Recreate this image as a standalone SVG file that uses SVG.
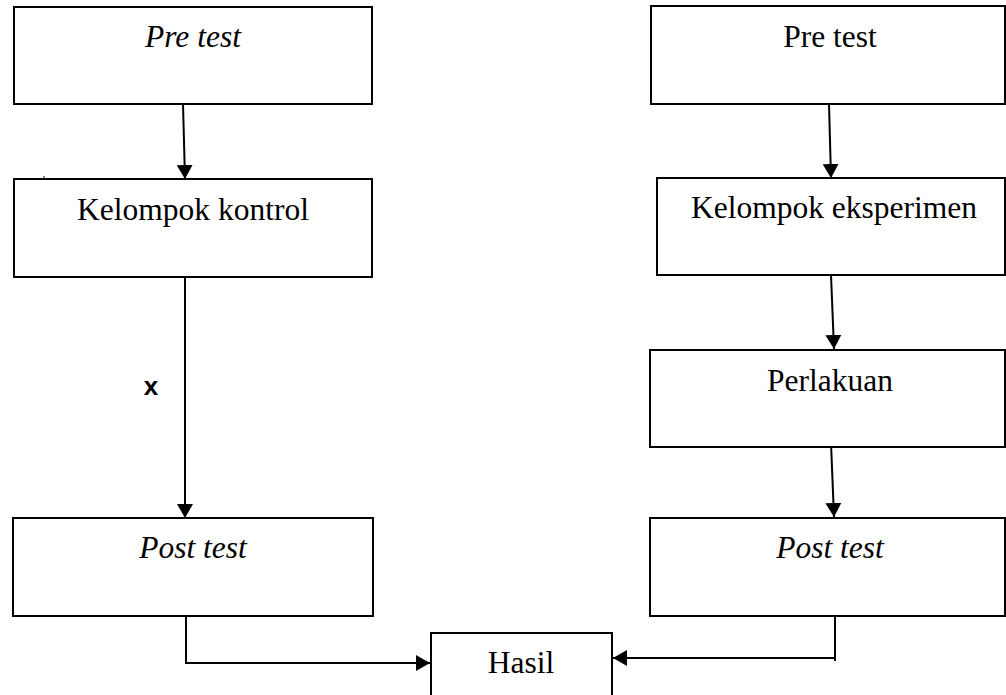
<svg xmlns="http://www.w3.org/2000/svg" width="1006" height="695" viewBox="0 0 1006 695">
<style>
.box{fill:#fff;stroke:#000;stroke-width:2}
.lbl{font-family:'Liberation Serif',serif;font-size:31.5px;fill:#000;text-anchor:middle}
.it{font-style:italic}
.edge{fill:none;stroke:#000;stroke-width:2}
</style>
<defs>
<marker id="ah" markerUnits="userSpaceOnUse" markerWidth="15" markerHeight="16" refX="14" refY="8" orient="auto" viewBox="0 0 15 16">
<path d="M0,0 L14,8 L0,16 z" fill="#000"/>
</marker>
</defs>
<rect width="1006" height="695" fill="#fff"/>
<g id="connectors">
<line class="edge" x1="183" y1="104" x2="185" y2="179" marker-end="url(#ah)"/>
<line class="edge" x1="185" y1="277" x2="185" y2="518" marker-end="url(#ah)"/>
<line class="edge" x1="829" y1="104" x2="831" y2="178" marker-end="url(#ah)"/>
<line class="edge" x1="831" y1="275" x2="834" y2="349" marker-end="url(#ah)"/>
<line class="edge" x1="831" y1="443" x2="834" y2="517" marker-end="url(#ah)"/>
<path class="edge" d="M186,616 V663 H430" marker-end="url(#ah)"/>
<path class="edge" d="M835,616 V661"/>
<path class="edge" d="M835,658 H613" marker-end="url(#ah)"/>
<line x1="44" y1="176" x2="44" y2="179" stroke="#000" stroke-width="1"/>
<text x="151" y="395" font-family="'Liberation Sans', Arial, sans-serif" font-weight="bold" font-size="26" text-anchor="middle">x</text>
</g>
<g id="pretest-left">
<rect class="box" x="14" y="7" width="358" height="97"/>
<text class="lbl it" x="193" y="47" font-family="Liberation Serif, serif">Pre test</text>
</g>
<g id="kelompok-kontrol">
<rect class="box" x="14" y="179" width="358" height="98"/>
<text class="lbl" x="193" y="220" font-family="Liberation Serif, serif">Kelompok kontrol</text>
</g>
<g id="posttest-left">
<rect class="box" x="13" y="518" width="360" height="98"/>
<text class="lbl it" x="193" y="558" font-family="Liberation Serif, serif">Post test</text>
</g>
<g id="pretest-right">
<rect class="box" x="651" y="6" width="354" height="98"/>
<text class="lbl" x="830" y="47" font-family="Liberation Serif, serif">Pre test</text>
</g>
<g id="kelompok-eksperimen">
<rect class="box" x="657" y="178" width="348" height="97"/>
<text class="lbl" x="834" y="218" font-family="Liberation Serif, serif">Kelompok eksperimen</text>
</g>
<g id="perlakuan">
<rect class="box" x="650" y="350" width="355" height="97"/>
<text class="lbl" x="830" y="391" font-family="Liberation Serif, serif">Perlakuan</text>
</g>
<g id="posttest-right">
<rect class="box" x="650" y="518" width="355" height="98"/>
<text class="lbl it" x="830" y="558" font-family="Liberation Serif, serif">Post test</text>
</g>
<g id="hasil">
<rect class="box" x="431" y="633" width="181" height="80"/>
<text class="lbl" x="521" y="673" font-family="Liberation Serif, serif">Hasil</text>
</g>
</svg>
